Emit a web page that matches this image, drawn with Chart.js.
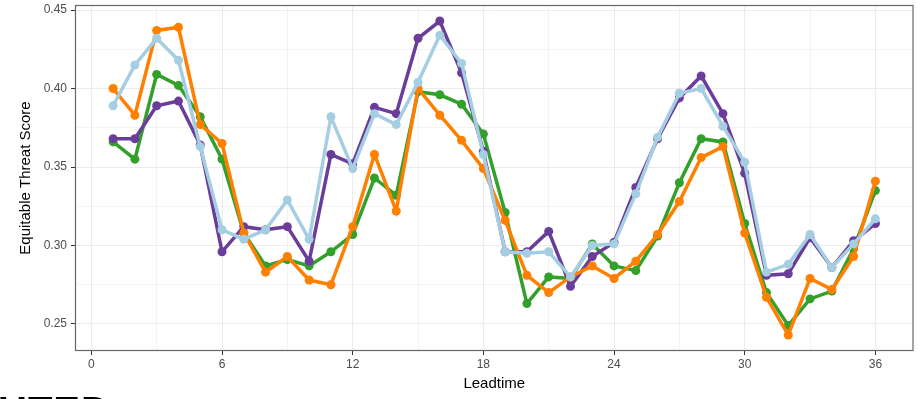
<!DOCTYPE html>
<html>
<head>
<meta charset="utf-8">
<script src="https://cdn.jsdelivr.net/npm/chart.js@4"></script>
<style>
  html, body { margin: 0; padding: 0; background: #fff; overflow: hidden; }
  #wrap { position: relative; width: 918px; height: 399px; }
  #cut { position: absolute; left: -2px; top: 389px; font: bold 40px "Liberation Sans", Arial, sans-serif; color: #000; letter-spacing: 1px; }
</style>
</head>
<body>
<div id="wrap">
  <canvas id="chart" width="918" height="399"></canvas>
  <div id="cut">UTED</div>
</div>
<script>
const leadtime = [1,2,3,4,5,6,7,8,9,10,11,12,13,14,15,16,17,18,19,20,21,22,23,24,25,26,27,28,29,30,31,32,33,34,35,36];

const purple = [0.368,0.368,0.389,0.392,0.364,0.296,0.312,0.310,0.312,0.290,0.358,0.352,0.388,0.384,0.432,0.443,0.410,0.360,0.296,0.296,0.309,0.274,0.293,0.302,0.337,0.368,0.394,0.408,0.384,0.346,0.281,0.282,0.305,0.286,0.303,0.314];
const orange = [0.400,0.383,0.437,0.439,0.377,0.365,0.308,0.283,0.293,0.278,0.275,0.312,0.358,0.322,0.400,0.383,0.367,0.349,0.316,0.281,0.270,0.280,0.287,0.279,0.290,0.307,0.328,0.356,0.363,0.308,0.267,0.243,0.279,0.272,0.293,0.341];
const green = [0.366,0.355,0.409,0.402,0.382,0.355,0.308,0.287,0.291,0.287,0.296,0.307,0.343,0.332,0.398,0.396,0.390,0.371,0.321,0.263,0.280,0.279,0.301,0.287,0.284,0.306,0.340,0.368,0.366,0.314,0.270,0.249,0.266,0.271,0.298,0.335];
const lightblue = [0.389,0.415,0.432,0.418,0.363,0.310,0.304,0.310,0.329,0.304,0.382,0.349,0.384,0.377,0.404,0.434,0.416,0.358,0.296,0.295,0.296,0.280,0.300,0.301,0.333,0.369,0.397,0.400,0.376,0.353,0.283,0.288,0.307,0.286,0.301,0.317];

const xTicks = [0,3,6,9,12,15,18,21,24,27,30,33,36];
const yTicks = [0.25,0.275,0.30,0.325,0.35,0.375,0.40,0.425,0.45];

function pts(vals) {
  return leadtime.map((t, i) => ({x: t, y: vals[i]}));
}
function series(vals, color) {
  return {
    data: pts(vals),
    borderColor: color,
    backgroundColor: color,
    borderWidth: 3.5,
    pointRadius: 4.5,
    pointBorderWidth: 0,
    pointHoverRadius: 4.5,
    tension: 0
  };
}

const fontFam = '"Liberation Sans", Arial, sans-serif';

const panelBorder = {
  id: 'panelBorder',
  afterDatasetsDraw(chart) {
    const a = chart.chartArea;
    const ctx = chart.ctx;
    ctx.save();
    ctx.strokeStyle = '#666';
    ctx.lineWidth = 1.2;
    ctx.strokeRect(a.left + 0.5, a.top + 0.5, a.right - a.left - 1, a.bottom - a.top - 1);
    ctx.restore();
  }
};

new Chart(document.getElementById('chart').getContext('2d'), {
  type: 'line',
  data: {
    datasets: [
      series(lightblue, '#a6cee3'),
      series(orange, '#ff7f00'),
      series(purple, '#6a3d9a'),
      series(green, '#33a02c')
    ]
  },
  options: {
    responsive: false,
    animation: false,
    devicePixelRatio: 1,
    layout: { padding: { left: 0, top: 5, right: 4, bottom: 0 } },
    plugins: { legend: { display: false }, tooltip: { enabled: false } },
    scales: {
      x: {
        type: 'linear',
        min: -0.75,
        max: 37.75,
        afterBuildTicks: s => { s.ticks = xTicks.map(v => ({value: v})); },
        afterFit: s => { s.height = 48; s.paddingLeft = 0; s.paddingRight = 0; },
        border: { display: false },
        grid: {
          color: '#ebebeb',
          lineWidth: c => (c.tick && c.tick.value % 6 === 0) ? 1 : 0.6,
          tickLength: 4,
          tickColor: c => (c.tick && c.tick.value % 6 === 0) ? '#333' : 'rgba(0,0,0,0)',
          tickWidth: 1
        },
        ticks: {
          autoSkip: false,
          maxRotation: 0,
          padding: 2,
          color: '#4d4d4d',
          font: { family: fontFam, size: 12 },
          callback: v => (v % 6 === 0) ? String(v) : ''
        },
        title: {
          display: true,
          text: 'Leadtime',
          color: '#000',
          font: { family: fontFam, size: 15 },
          padding: { top: 0, bottom: 6 }
        }
      },
      y: {
        min: 0.2328,
        max: 0.4532,
        afterBuildTicks: s => { s.ticks = yTicks.map(v => ({value: v})); },
        afterFit: s => { s.width = 75; s.paddingTop = 0; s.paddingBottom = 0; },
        border: { display: false },
        grid: {
          color: '#ebebeb',
          lineWidth: c => (c.tick && Math.round(c.tick.value * 1000) % 50 === 0) ? 1 : 0.6,
          tickLength: 4,
          tickColor: c => (c.tick && Math.round(c.tick.value * 1000) % 50 === 0) ? '#333' : 'rgba(0,0,0,0)',
          tickWidth: 1
        },
        ticks: {
          autoSkip: false,
          padding: 4,
          color: '#4d4d4d',
          font: { family: fontFam, size: 12 },
          callback: v => (Math.round(v * 1000) % 50 === 0) ? v.toFixed(2) : ''
        },
        title: {
          display: true,
          text: 'Equitable Threat Score',
          color: '#000',
          font: { family: fontFam, size: 15 },
          padding: { top: 17, bottom: 0 }
        }
      }
    }
  },
  plugins: [panelBorder]
});
</script>
</body>
</html>
